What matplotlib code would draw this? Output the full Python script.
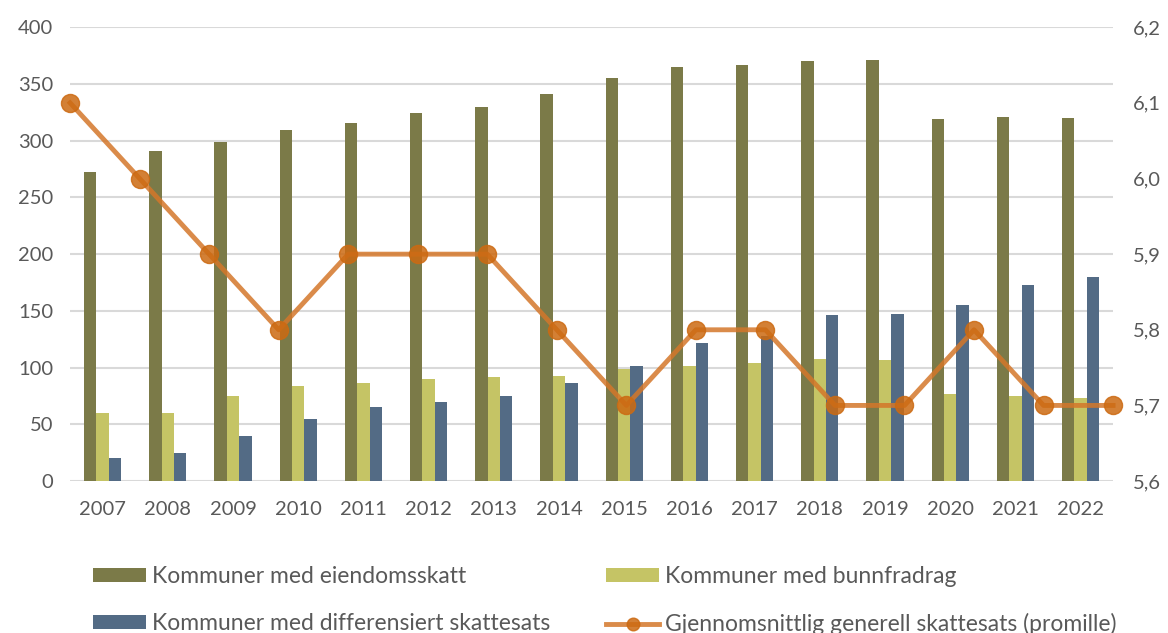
import matplotlib
matplotlib.use("Agg")
import matplotlib.pyplot as plt
from matplotlib.ticker import FuncFormatter
import numpy as np

years = ["2007", "2008", "2009", "2010", "2011", "2012", "2013", "2014",
         "2015", "2016", "2017", "2018", "2019", "2020", "2021", "2022"]
eiendomsskatt = [272, 291, 299, 309, 316, 324, 330, 341, 355, 365, 367, 370, 371, 319, 321, 320]
bunnfradrag = [60, 60, 75, 84, 86, 90, 92, 93, 99, 101, 104, 108, 107, 77, 75, 73]
differensiert = [20, 25, 40, 55, 65, 70, 75, 86, 101, 122, 128, 146, 147, 155, 173, 180]
skattesats = [6.1, 6.0, 5.9, 5.8, 5.9, 5.9, 5.9, 5.8, 5.7, 5.8, 5.8, 5.7, 5.7, 5.8, 5.7, 5.7]

labels = ["Kommuner med eiendomsskatt", "Kommuner med bunnfradrag",
          "Kommuner med differensiert skattesats",
          "Gjennomsnittlig generell skattesats (promille)"]

plt.rcParams['font.family'] = ['Lato', 'DejaVu Sans']
text_color = "#595959"
grid_color = "#d9d9d9"
c_olive = "#7b7a48"
c_yellow = "#c5c465"
c_blue = "#536b85"
c_orange = "#d4772a"
c_marker = "#cc6a12"

fig = plt.figure(figsize=(11.68, 6.33), dpi=100)
ax = fig.add_axes([0.06, 0.24, 0.893, 0.717])

x = np.arange(len(years))
w = 0.19
b1 = ax.bar(x - w, eiendomsskatt, w, color=c_olive, zorder=2)
b2 = ax.bar(x, bunnfradrag, w, color=c_yellow, zorder=2)
b3 = ax.bar(x + w, differensiert, w, color=c_blue, zorder=2)

ax.set_xlim(-0.5, len(years) - 0.5)
ax.set_ylim(0, 400)
ax.set_yticks(range(0, 401, 50))
ax.set_xticks(x)
ax.set_xticklabels(years)
ax.yaxis.grid(True, color=grid_color, linewidth=1.5, zorder=0)
ax.set_axisbelow(True)
for s in ax.spines.values():
    s.set_visible(False)
ax.tick_params(axis='both', length=0, labelsize=14.5, colors=text_color)
ax.tick_params(axis='x', pad=14)
ax.tick_params(axis='y', pad=12)

# secondary y-axis
ax2 = ax.twinx()
ax2.set_ylim(5.6, 6.2)
ax2.set_yticks([5.6, 5.7, 5.8, 5.9, 6.0, 6.1, 6.2])
ax2.yaxis.set_major_formatter(FuncFormatter(lambda v, p: f"{v:.1f}".replace(".", ",")))
for s in ax2.spines.values():
    s.set_visible(False)
ax2.tick_params(axis='y', length=0, labelsize=14.5, colors=text_color, pad=14)

# secondary horizontal axis for the line (on tick marks)
ax3 = ax2.twiny()
ax3.set_xlim(0, len(years) - 1)
ax3.set_xticks([])
for s in ax3.spines.values():
    s.set_visible(False)
line, = ax3.plot(np.arange(len(years)), skattesats, color=c_orange, linewidth=3.5,
                 alpha=0.85, marker='o', markersize=13, markerfacecolor=c_marker,
                 markeredgecolor=c_marker, zorder=5, clip_on=False)

handles = [b1, b3, b2, line]
leg_labels = [labels[0], labels[2], labels[1], labels[3]]
leg = fig.legend(handles, leg_labels, ncol=2, loc='lower left',
                 bbox_to_anchor=(0.062, -0.036), frameon=False,
                 fontsize=16.5, labelcolor=text_color, handlelength=2.3,
                 handleheight=0.55, handletextpad=0.26, columnspacing=2.46,
                 labelspacing=1.14, markerscale=0.7)

fig.savefig("out.png", dpi=100)
